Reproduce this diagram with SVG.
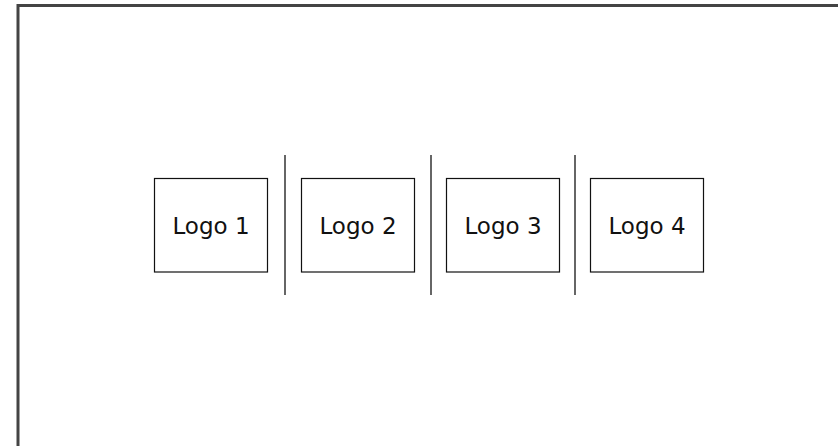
<svg xmlns="http://www.w3.org/2000/svg" width="838" height="446" viewBox="0 0 838 446">
<style>
.box{fill:#fff;stroke:#111;stroke-width:1.2}
.lbl{font-family:"DejaVu Sans",Verdana,sans-serif;font-size:23px;fill:#111;text-anchor:middle}
.sep{stroke:#333;stroke-width:1.5}
</style>
<rect x="0" y="0" width="838" height="446" fill="#fff"/>
<rect x="18" y="5.5" width="900" height="500" fill="#fff" stroke="#444" stroke-width="3"/>
<g id="logo1"><rect class="box" x="154.5" y="178.5" width="113" height="93.5"/><text class="lbl" x="211" y="233.5">Logo 1</text></g>
<g id="logo2"><rect class="box" x="301.5" y="178.5" width="113" height="93.5"/><text class="lbl" x="358" y="233.5">Logo 2</text></g>
<g id="logo3"><rect class="box" x="446.5" y="178.5" width="113" height="93.5"/><text class="lbl" x="503" y="233.5">Logo 3</text></g>
<g id="logo4"><rect class="box" x="590.5" y="178.5" width="113" height="93.5"/><text class="lbl" x="647" y="233.5">Logo 4</text></g>
<g id="separators">
<line class="sep" x1="285" y1="155" x2="285" y2="295"/>
<line class="sep" x1="431" y1="155" x2="431" y2="295"/>
<line class="sep" x1="575" y1="155" x2="575" y2="295"/>
</g>
</svg>
